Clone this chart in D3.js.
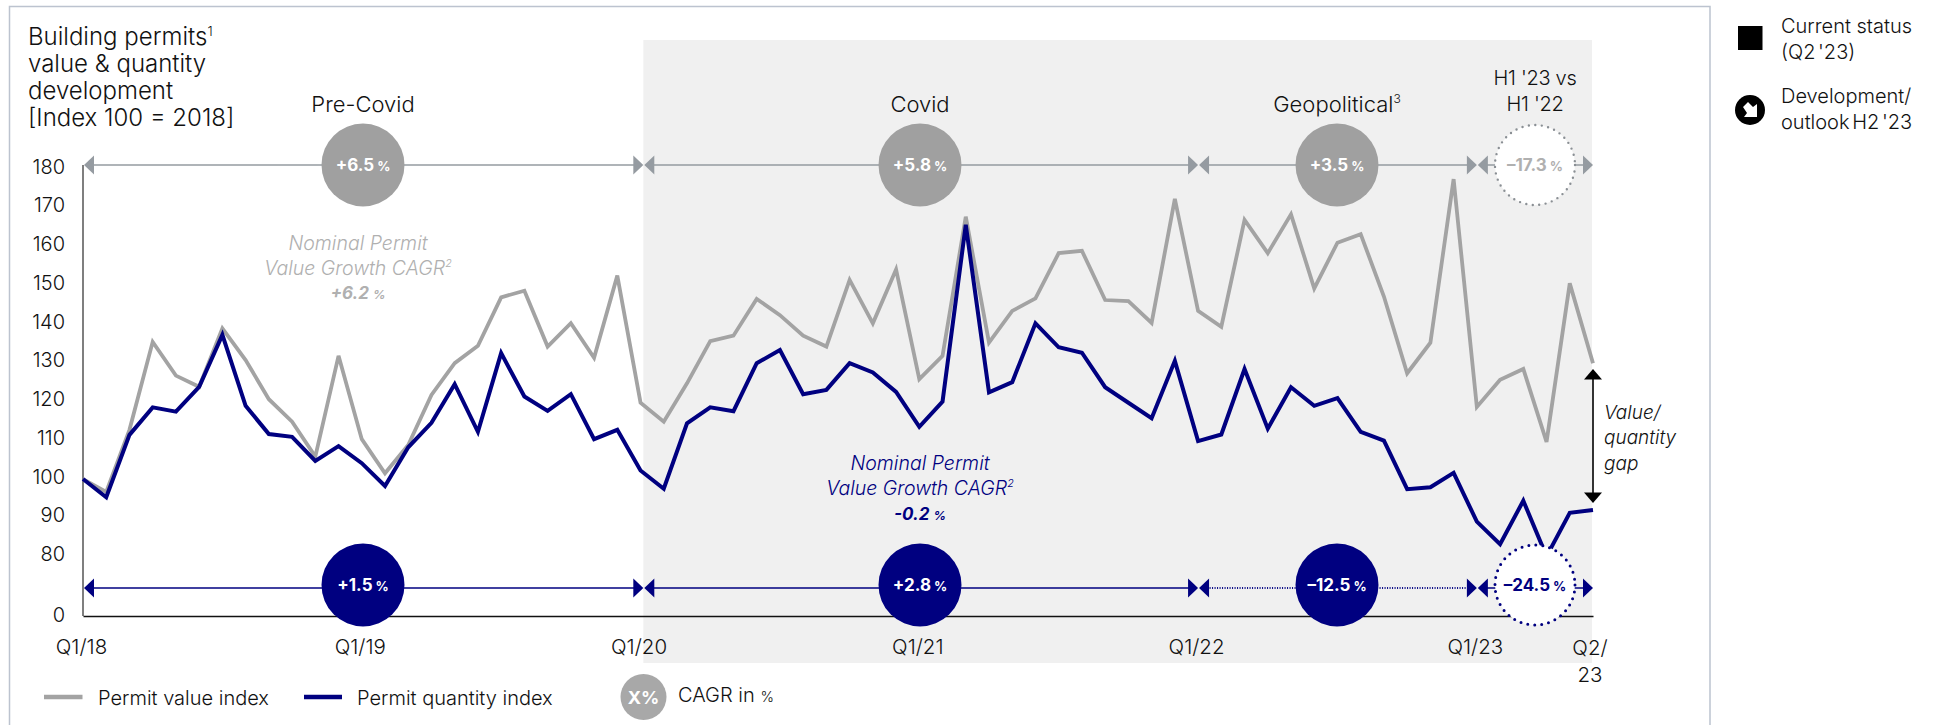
<!DOCTYPE html>
<html><head><meta charset="utf-8">
<script src="https://cdn.jsdelivr.net/npm/d3@7/dist/d3.min.js"></script>
<style>
html,body{margin:0;padding:0;background:#fff;overflow:hidden}
text{font-family:"Inter","Noto Sans",sans-serif;font-weight:300;fill:#111}
</style></head><body>
<svg id="c" width="1934" height="725"></svg>
<script>
const permitValue=[99.6,96.3,112.3,135.0,126.3,123.4,138.5,130.3,120.2,114.4,105.4,131.4,109.9,101.1,108.4,121.3,129.5,134.0,146.5,148.2,133.8,139.8,130.9,152.1,119.3,114.4,124.3,135.2,136.6,146.1,141.9,136.6,133.8,151.0,139.8,153.7,125.4,131.4,167.3,134.8,143.0,146.2,157.9,158.5,145.8,145.5,139.9,171.9,143.0,138.9,166.5,157.9,167.9,148.8,160.6,162.8,146.7,126.9,134.8,177.0,118.2,125.2,128.0,109.2,150.1,129.5];
const permitQuantity=[99.6,94.9,111.0,118.1,117.0,123.4,136.8,118.5,111.2,110.5,104.3,108.1,103.7,97.8,107.8,114.1,124.1,111.8,132.1,120.9,117.2,121.5,109.9,112.3,101.8,97.1,114.0,118.1,117.1,129.5,132.9,121.5,122.6,129.5,127.1,122.1,113.1,119.6,165.2,122.0,124.6,139.8,133.6,132.2,123.3,119.3,115.3,130.1,109.4,111.1,128.0,112.6,123.3,118.5,120.5,111.8,109.5,97.0,97.5,101.2,88.6,82.8,94.0,78.2,90.9,91.6];
const yTicks=[0,80,90,100,110,120,130,140,150,160,170,180];
const xTickIndex=[0,12,24,36,48,60];
const xTickLabels=["Q1/18","Q1/19","Q1/20","Q1/21","Q1/22","Q1/23"];
const titleLines=["Building permits^1","value & quantity","development","[Index 100 = 2018]"];
const periodNames=["Pre-Covid","Covid","Geopolitical^3"];
const periodBounds=[0,24.12,48,60,65];
const valueCagr=["+6.5","+5.8","+3.5","–17.3"];
const quantityCagr=["+1.5","+2.8","–12.5","–24.5"];
const GREY="#a3a3a3",NAVY="#000080",ARROWGREY="#959ba1";

const svg=d3.select("#c");
const x=d3.scaleLinear().domain([0,65]).range([83,1593]);
const y=d3.scaleLinear().domain([0,80,180]).range([616,555,167.5]);

// card
svg.append("path").attr("d","M9.5,725V6.5H1710V725").attr("fill","none").attr("stroke","#bcc3cf").attr("stroke-width",1.5);
// band
const bandX=x(periodBounds[1]);
svg.append("rect").attr("x",bandX).attr("y",40).attr("width",x(65)-bandX-1).attr("height",623).attr("fill","#f0f0f0");

// axes
const ax=svg.append("g").attr("transform","translate(83,0)").call(d3.axisLeft(y).tickValues(yTicks).tickSize(0).tickPadding(18));
ax.select(".domain").attr("stroke","#555").attr("stroke-width",1.5).attr("d","M0,165V616");
ax.selectAll("text").attr("font-size",20).attr("dy","0.28em");
const bx=svg.append("g").attr("transform","translate(0,616)").call(d3.axisBottom(x).tickValues(xTickIndex).tickFormat((d,i)=>xTickLabels[i]).tickSize(0).tickPadding(23));
bx.select(".domain").attr("stroke","#111").attr("stroke-width",1.5);
bx.selectAll("text").attr("font-size",20.5).attr("dx",-2);
const endLab=svg.append("text").attr("font-size",20.5).attr("text-anchor","middle");
endLab.append("tspan").attr("x",x(65)-3).attr("y",655).text("Q2/");
endLab.append("tspan").attr("x",x(65)-3).attr("y",682).text("23");

// lines
const line=d3.line().x((d,i)=>x(i)).y(d=>y(d)).curve(d3.curveLinear);
svg.append("path").attr("d",line(permitValue)).attr("fill","none").attr("stroke",GREY).attr("stroke-width",3.8);
svg.append("path").attr("d",line(permitQuantity)).attr("fill","none").attr("stroke",NAVY).attr("stroke-width",4);

// rich text: "^n" is a superscript, "%" is set small
function rich(e,s){
 s.split(/(\^\d|%)/).filter(p=>p!=="").forEach(p=>{
  if(p[0]==="^")e.append("tspan").attr("font-size","0.55em").attr("dy","-0.75em").text(p.slice(1));
  else if(p==="%")e.append("tspan").attr("font-size","0.72em").text(p);
  else e.append("tspan").text(p);
 });
 return e;
}

// period arrows + bubbles
const bubbleX=[363,920,1337,1535];
function tri(tx,cy,dir,w,h){return `M${tx},${cy}L${tx-dir*w},${cy-h/2}V${cy+h/2}Z`;}
function rowOf(cy,lineY,cols,vals,c,dottedIdx){
 const g=svg.append("g");
 periodBounds.slice(0,-1).forEach((b,i)=>{
  const a=x(b)+1,e=x(periodBounds[i+1]);
  const dotted=i===dottedIdx;
  g.append("line").attr("x1",a+8).attr("x2",e-8).attr("y1",lineY).attr("y2",lineY).attr("stroke",cols.line).attr("stroke-width",dotted?2:1.6).attr("stroke-dasharray",dotted?"1 1.5":null);
  g.append("path").attr("d",tri(a,lineY,-1,10,19)).attr("fill",cols.line);
  g.append("path").attr("d",tri(e,lineY,1,10,19)).attr("fill",cols.line);
  const mid=bubbleX[i];
  if(i<3){g.append("circle").attr("cx",mid).attr("cy",cy).attr("r",41.5).attr("fill",c);}
  else{g.append("circle").attr("cx",mid).attr("cy",cy).attr("r",40).attr("fill","#fff").attr("stroke",cols.dot).attr("stroke-width",cols.dw).attr("stroke-linecap","round").attr("stroke-dasharray",cols.da);}
  const tx=g.append("text").attr("x",mid).attr("y",cy).attr("dy","0.36em").attr("text-anchor","middle").attr("font-size",17).style("font-weight",700).style("fill",i<3?"#fff":cols.txt);
  tx.append("tspan").text(vals[i]);
  tx.append("tspan").attr("font-size",13).attr("dx",3).text("%");
 });
}
rowOf(165,165,{line:ARROWGREY,dot:"#8a8f94",dw:2.4,da:"0 6.5",txt:"#b0b0b0"},valueCagr,"#a0a0a0",-1);
rowOf(585,588,{line:NAVY,dot:NAVY,dw:3,da:"0 7",txt:NAVY},quantityCagr,NAVY,2);

// texts
function t(s,px,py,size,opt={}){
 const e=svg.append("text").attr("x",px).attr("y",py).attr("dy","0.35em").attr("font-size",size).attr("text-anchor",opt.anchor||"start");
 if(opt.italic)e.style("font-style","italic");
 if(opt.fill)e.style("fill",opt.fill);
 if(opt.weight)e.style("font-weight",opt.weight);
 if(opt.ls)e.style("letter-spacing",opt.ls);
 if(opt.ws)e.style("word-spacing",opt.ws);
 return rich(e,s);
}
titleLines.forEach((s,i)=>t(s,28,37+i*27,24));
periodNames.forEach((s,i)=>t(s,bubbleX[i],104,22,{anchor:"middle"}));
t("H1 '23 vs",1535,78,20,{anchor:"middle",ls:"-0.3px"});
t("H1 '22",1535,104,20,{anchor:"middle",ls:"-0.3px"});
t("Nominal Permit",358,243,19.5,{anchor:"middle",italic:1,fill:"#b0b0b0"});
t("Value Growth CAGR^2",358,268,19.5,{anchor:"middle",italic:1,fill:"#b0b0b0"});
t("+6.2 %",358,293,17,{anchor:"middle",italic:1,fill:"#b0b0b0",weight:700});
t("Nominal Permit",920,463,19.5,{anchor:"middle",italic:1,fill:NAVY});
t("Value Growth CAGR^2",920,488,19.5,{anchor:"middle",italic:1,fill:NAVY});
t("-0.2 %",920,514,17,{anchor:"middle",italic:1,fill:NAVY,weight:700});

// gap arrow
svg.append("line").attr("x1",x(65)).attr("x2",x(65)).attr("y1",375).attr("y2",498).attr("stroke","#000").attr("stroke-width",1.6);
svg.append("path").attr("d",`M${x(65)},369l9,10.5h-18Z`).attr("fill","#000");
svg.append("path").attr("d",`M${x(65)},503l9,-10.5h-18Z`).attr("fill","#000");
["Value/","quantity","gap"].forEach((s,i)=>t(s,1604,412+i*25.5,19,{italic:1}));

// bottom legend
svg.append("line").attr("x1",44).attr("x2",82.5).attr("y1",697).attr("y2",697).attr("stroke",GREY).attr("stroke-width",4.5);
t("Permit value index",98,698,20);
svg.append("line").attr("x1",304).attr("x2",342).attr("y1",697).attr("y2",697).attr("stroke",NAVY).attr("stroke-width",4.5);
t("Permit quantity index",357,698,20);
svg.append("circle").attr("cx",643.5).attr("cy",697).attr("r",23).attr("fill","#a8a8a8");
svg.append("text").attr("x",643.5).attr("y",698).attr("dy","0.35em").attr("text-anchor","middle").attr("font-size",18).style("fill","#fff").style("font-weight",700).text("X%");
t("CAGR in %",678,695,20);

// right legend
svg.append("rect").attr("x",1738).attr("y",26).attr("width",24.5).attr("height",24).attr("fill","#000");
t("Current status",1781,26,20);
t("(Q2 '23)",1781,51.5,20,{ws:"-3px"});
svg.append("circle").attr("cx",1750).attr("cy",110).attr("r",15).attr("fill","#000");
svg.append("path").attr("d","M1743,107l5,-5l5,5l4,-3v13h-13l3,-4Z").attr("fill","#fff");
t("Development/",1781,96,20);
t("outlook H2 '23",1781,122,20,{ws:"-3px"});
</script></body></html>
